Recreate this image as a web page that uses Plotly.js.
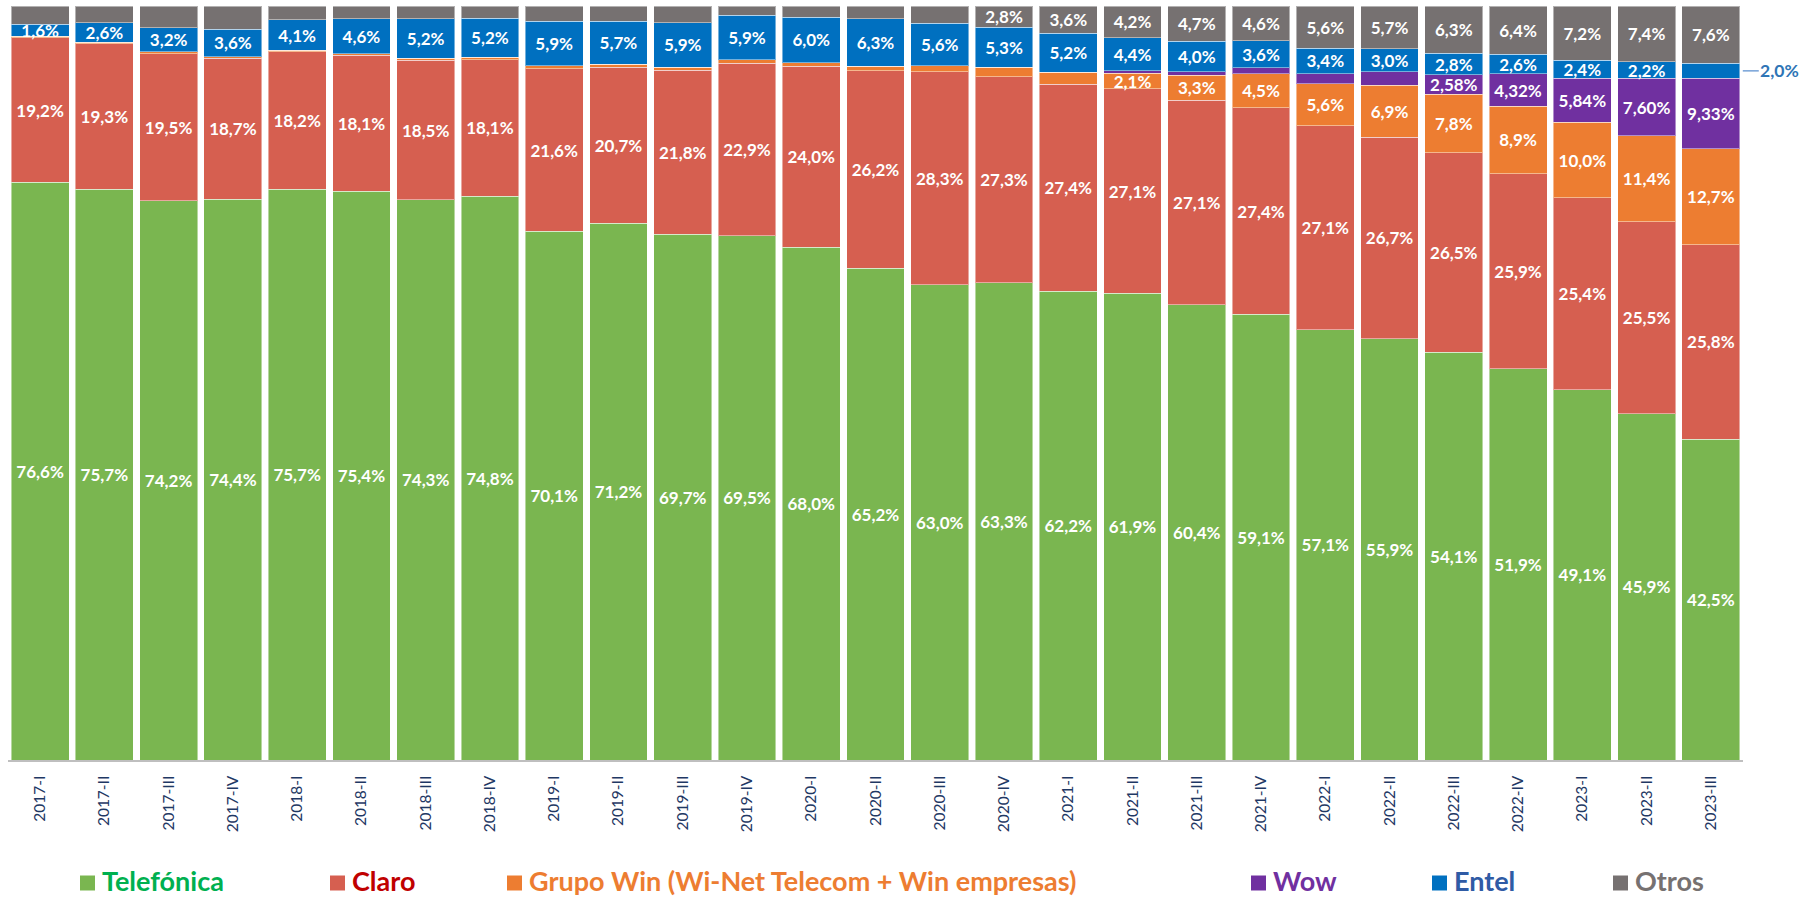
<!DOCTYPE html>
<html>
<head>
<meta charset="utf-8">
<script src="https://cdn.plot.ly/plotly-3.0.1.min.js"></script>
<style>
  html, body { margin: 0; padding: 0; background: #ffffff; }
  #chart { width: 1803px; height: 898px; }
</style>
</head>
<body>
<div id="chart"></div>
<script>
// ---------------- DATA ----------------
const categories = [
  '2017-I', '2017-II', '2017-III', '2017-IV',
  '2018-I', '2018-II', '2018-III', '2018-IV',
  '2019-I', '2019-II', '2019-III', '2019-IV',
  '2020-I', '2020-II', '2020-III', '2020-IV',
  '2021-I', '2021-II', '2021-III', '2021-IV',
  '2022-I', '2022-II', '2022-III', '2022-IV',
  '2023-I', '2023-II', '2023-III'
];

const telefonica = [76.6, 75.7, 74.2, 74.4, 75.7, 75.4, 74.3, 74.8, 70.1, 71.2, 69.7, 69.5, 68.0, 65.2, 63.0, 63.3, 62.2, 61.9, 60.4, 59.1, 57.1, 55.9, 54.1, 51.9, 49.1, 45.9, 42.5];
const claro      = [19.2, 19.3, 19.5, 18.7, 18.2, 18.1, 18.5, 18.1, 21.6, 20.7, 21.8, 22.9, 24.0, 26.2, 28.3, 27.3, 27.4, 27.1, 27.1, 27.4, 27.1, 26.7, 26.5, 25.9, 25.4, 25.5, 25.8];
const grupoWin   = [0.2, 0.2, 0.2, 0.2, 0.2, 0.2, 0.3, 0.3, 0.4, 0.4, 0.4, 0.5, 0.5, 0.6, 0.8, 1.3, 1.6, 2.1, 3.3, 4.5, 5.6, 6.9, 7.8, 8.9, 10.0, 11.4, 12.7];
const wow        = [0, 0, 0, 0, 0, 0, 0, 0, 0, 0, 0, 0, 0, 0, 0, 0, 0, 0.3, 0.5, 0.8, 1.3, 1.8, 2.58, 4.32, 5.84, 7.60, 9.33];
const entel      = [1.6, 2.6, 3.2, 3.6, 4.1, 4.6, 5.2, 5.2, 5.9, 5.7, 5.9, 5.9, 6.0, 6.3, 5.6, 5.3, 5.2, 4.4, 4.0, 3.6, 3.4, 3.0, 2.8, 2.6, 2.4, 2.2, 2.0];
const otros      = [2.4, 2.2, 2.9, 3.1, 1.8, 1.7, 1.7, 1.6, 2.0, 2.0, 2.2, 1.2, 1.5, 1.7, 2.3, 2.8, 3.6, 4.2, 4.7, 4.6, 5.6, 5.7, 6.3, 6.4, 7.2, 7.4, 7.6];

const seriesNames = ['Telefónica', 'Claro', 'Grupo Win (Wi-Net Telecom + Win empresas)', 'Wow', 'Entel', 'Otros'];

// ---------------- STYLE ----------------
const barColors    = ['#7ab650', '#d65f50', '#ed7d31', '#7030a0', '#0070c0', '#767171'];
const legendColors = ['#00b050', '#c00000', '#ed7d31', '#7030a0', '#2f5ba5', '#767171'];
const decimals     = [1, 1, 1, 2, 1, 1];

const fmt = (v, d) => v.toFixed(d).replace('.', ',') + '%';

// which values carry an inside label
const labelRules = [
  (v, i) => true,
  (v, i) => true,
  (v, i) => v >= 2,
  (v, i) => v >= 2.5,
  (v, i) => i < categories.length - 1,   // last Entel value is labelled outside
  (v, i) => i >= categories.indexOf('2020-IV')
];

const seriesValues = [telefonica, claro, grupoWin, wow, entel, otros];

const traces = seriesValues.map((vals, s) => ({
  type: 'bar',
  name: seriesNames[s],
  x: categories,
  y: vals,
  marker: { color: barColors[s], line: { color: 'rgba(255,255,255,0.45)', width: 1 } },
  text: vals.map((v, i) => labelRules[s](v, i) ? fmt(v, decimals[s]) : ''),
  textposition: 'inside',
  insidetextanchor: 'middle',
  textangle: 0,
  constraintext: 'none',
  textfont: { family: 'Lato, sans-serif', size: 17, color: '#ffffff', weight: 700 },
  hoverinfo: 'name+y',
  showlegend: false
}));

// ---------- geometry helpers (pixel -> paper) ----------
const M = { l: 8, r: 60, t: 6, b: 138 };
const W = 1803, H = 898;
const pw = W - M.l - M.r, ph = H - M.t - M.b;
const px = p => (p - M.l) / pw;
const py = p => (H - M.b - p) / ph;

// ---------- custom legend ----------
const legendLeft = [80, 330, 507, 1251, 1432, 1613];
const legendY = 882;
const shapes = [];
const annotations = [];
seriesNames.forEach((n, s) => {
  shapes.push({
    type: 'rect', xref: 'paper', yref: 'paper',
    x0: px(legendLeft[s]), x1: px(legendLeft[s] + 15),
    y0: py(legendY + 8.5), y1: py(legendY - 6.5),
    fillcolor: barColors[s], line: { width: 0 }
  });
  annotations.push({
    xref: 'paper', yref: 'paper',
    x: px(legendLeft[s] + 20), y: py(legendY - 1.5),
    xanchor: 'left', yanchor: 'middle',
    text: n, showarrow: false,
    font: { family: 'Lato, sans-serif', size: 27, color: legendColors[s], weight: 700 }
  });
});

// ---------- outside label for last Entel value ----------
const last = categories.length - 1;
const totalLast = seriesValues.reduce((a, arr) => a + arr[last], 0);
const belowEntel = telefonica[last] + claro[last] + grupoWin[last] + wow[last];
annotations.push({
  xref: 'x', yref: 'y',
  x: last + 0.45,
  y: (belowEntel + entel[last] / 2) / totalLast * 100,
  text: fmt(entel[last], 1),
  showarrow: true, arrowhead: 0, arrowwidth: 1.2, arrowcolor: '#5b8fd0',
  ax: 40, ay: 0, standoff: 3,
  font: { family: 'Lato, sans-serif', size: 17.5, color: '#2e75b6', weight: 700 }
});

const layout = {
  width: W, height: H,
  margin: M,
  paper_bgcolor: '#ffffff',
  plot_bgcolor: '#ffffff',
  barmode: 'stack',
  barnorm: 'percent',
  bargap: 0.1,
  showlegend: false,
  xaxis: {
    type: 'category',
    range: [-0.5, categories.length - 0.5],
    tickangle: -90,
    tickfont: { family: 'Lato, sans-serif', size: 15.5, color: '#1f3864' },
    ticks: '',
    ticklabelstandoff: 8,
    showline: true, linecolor: '#bfbfbf', linewidth: 1.5,
    showgrid: false, zeroline: false
  },
  yaxis: {
    range: [0, 100],
    visible: false,
    showgrid: false, zeroline: false
  },
  shapes: shapes,
  annotations: annotations
};

Plotly.newPlot('chart', traces, layout, { displayModeBar: false, staticPlot: true });
</script>
</body>
</html>
